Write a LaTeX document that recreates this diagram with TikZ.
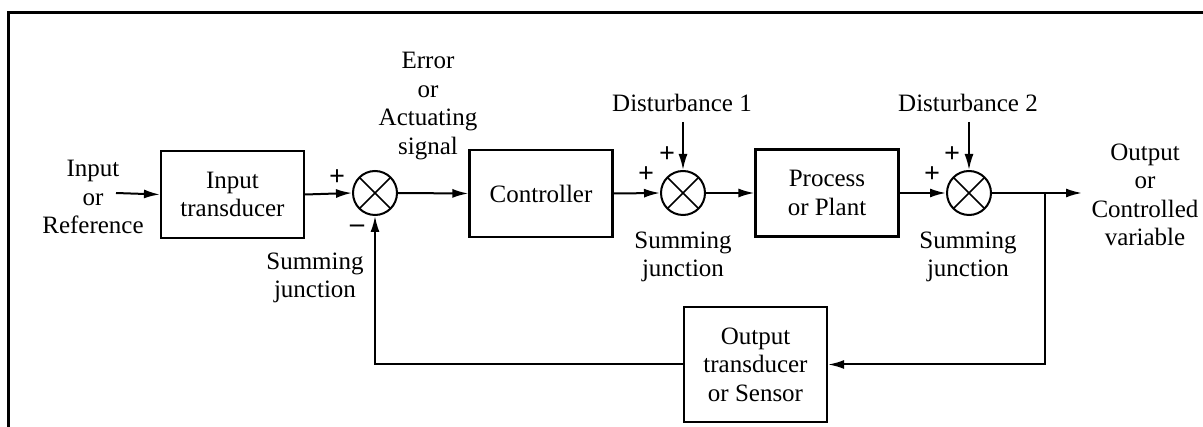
\documentclass[tikz,border=0pt]{standalone}
\usepackage{fontspec}
\setmainfont{Liberation Serif}
\usetikzlibrary{arrows.meta}
\begin{document}
\begin{tikzpicture}[x=1pt,y=-1pt,
  txt/.style={font=\fontsize{25}{28.5}\selectfont, align=center, inner sep=0pt},
  blk/.style={draw, line width=2.2pt, txt, minimum width=143pt, minimum height=87pt},
  sumj/.style={draw, circle, line width=2pt, minimum size=44pt, inner sep=0pt,
    path picture={\draw[line width=1.7pt]
      (path picture bounding box.north west) -- (path picture bounding box.south east)
      (path picture bounding box.north east) -- (path picture bounding box.south west);}},
  sgn/.style={font=\fontsize{28}{28}\selectfont\bfseries, inner sep=0pt},
  wire/.style={line width=2pt},
  arr/.style={wire, -{Latex[length=16pt,width=9pt]}}
]
\useasboundingbox (0,0) rectangle (1203,427);
% open frame
\draw[line width=3pt] (8,427) -- (8,13) -- (1203,13);

% blocks
\node[blk] (it) at (232.5,194.5) {Input\\transducer};
\node[blk] (ctrl) at (541,193.5) {Controller};
\node[blk] (proc) at (827,193) {Process\\or Plant};
\node[blk, minimum height=115pt] (ot) at (755.5,364.5) {Output\\transducer\\or Sensor};

% summing junctions
\node[sumj] (s1) at (375,193) {};
\node[sumj] (s2) at (683,193) {};
\node[sumj] (s3) at (969,193) {};

% signal labels
\node[txt] (in) at (93,197) {Input\\or\\Reference};
\node[txt] (err) at (428,106) {Error\\or\\Actuating\\signal};
\node[txt] (d1) at (682,103) {Disturbance 1};
\node[txt] (d2) at (968,103) {Disturbance 2};
\node[txt] (out) at (1145,195) {Output\\or\\Controlled\\variable};
\node[txt] (sj1) at (315,278) {Summing\\junction};
\node[txt] (sj2) at (683,257) {Summing\\junction};
\node[txt] (sj3) at (968,257) {Summing\\junction};

% signs
\node[sgn] (p1) at (337,178) {+};
\node[sgn] (m1) at (357,229) {\textendash};
\node[sgn] (p2a) at (646,175) {+};
\node[sgn] (p2b) at (667,155) {+};
\node[sgn] (p3a) at (932,175) {+};
\node[sgn] (p3b) at (952,155) {+};

% connector end points
\coordinate (ina) at (116,193);
\coordinate (d1a) at (683,122);
\coordinate (d2a) at (969,122);
\coordinate (br) at (1045,193);
\coordinate (brd) at (1045,364.5);
\coordinate (fbl) at (375,364.5);
\coordinate (outa) at (1082,193);

% forward path
\draw[arr] (ina) -- (it.west);
\draw[arr] (it.east) -- (s1.west);
\draw[arr] (s1.east) -- (ctrl.west);
\draw[arr] (ctrl.east) -- (s2.west);
\draw[arr] (s2.east) -- (proc.west);
\draw[arr] (proc.east) -- (s3.west);
\draw[arr] (s3.east) -- (outa);
% disturbances
\draw[arr] (d1a) -- (s2.north);
\draw[arr] (d2a) -- (s3.north);
% feedback path
\draw[arr] (br) -- (brd) -- (ot.east);
\draw[arr] (ot.west) -- (fbl) -- (s1.south);
\end{tikzpicture}
\end{document}
